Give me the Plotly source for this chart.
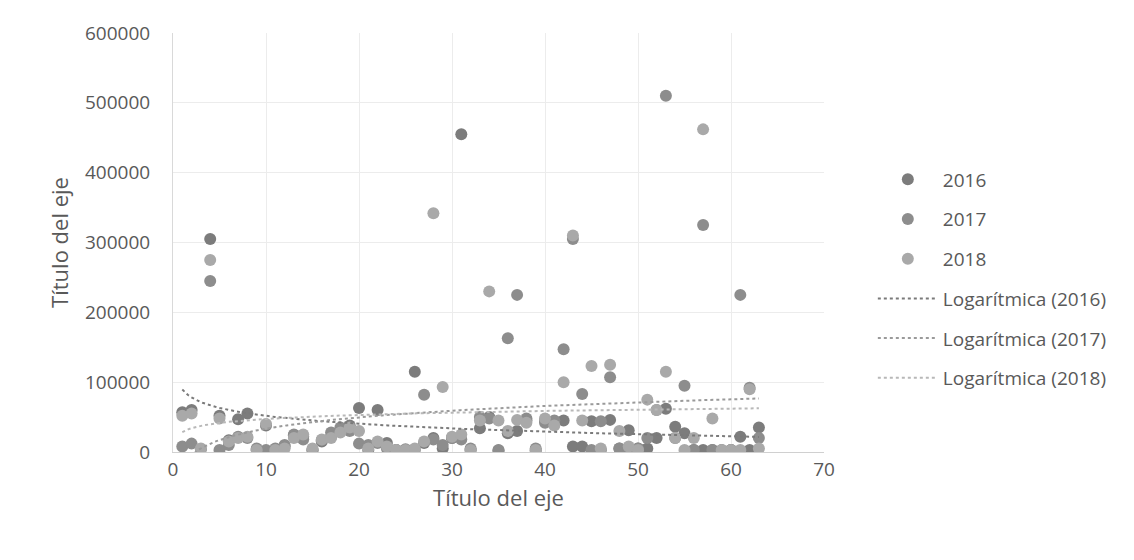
import numpy as np
import plotly.graph_objects as go

years = ["2016", "2017", "2018"]
x_idx = list(range(1, 64))
N = None

y_2016 = [57000, 60000, N, 305000, 52000, 17000, 47000, 55000, 3000, 38000,
          3000, 8000, 24000, 22000, 3000, 15000, 22000, 31000, 38000, 63000,
          3000, 60000, 13000, 3000, 3000, 115000, 13000, 20000, 5000, 20000,
          455000, 3000, 34000, 50000, 2000, 27000, 30000, 45000, 2000, 45000,
          42000, 45000, 8000, 8000, 44000, 3000, 46000, 5000, 31000, 5000,
          5000, 20000, 62000, 36000, 27000, 3000, 3000, 3000, 2000, 3000,
          22000, 3000, 35000]
y_2017 = [8000, 12000, 4000, 245000, 3000, 10000, 22000, 20000, 5000, 3000,
          5000, 10000, 25000, 18000, 3000, 17000, 28000, 35000, 30000, 12000,
          10000, 13000, 5000, 3000, 4000, 3000, 82000, 18000, 10000, 20000,
          18000, 5000, 50000, 48000, 3000, 163000, 225000, 48000, 5000, 42000,
          45000, 147000, 305000, 83000, 3000, 44000, 107000, 5000, 5000, 5000,
          20000, 60000, 510000, 20000, 95000, 3000, 325000, 3000, 3000, 3000,
          225000, 92000, 20000]
y_2018 = [52000, 55000, 5000, 275000, 48000, 15000, 20000, 22000, 3000, 40000,
          3000, 5000, 20000, 25000, 5000, 18000, 20000, 28000, 35000, 30000,
          5000, 15000, 8000, 3000, 3000, 5000, 15000, 342000, 93000, 22000,
          25000, 3000, 45000, 230000, 45000, 30000, 46000, 42000, 3000, 48000,
          38000, 100000, 310000, 45000, 123000, 5000, 125000, 30000, 8000, 3000,
          75000, 60000, 115000, 20000, 3000, 20000, 462000, 48000, 3000, 3000,
          3000, 90000, 5000]

series = [y_2016, y_2017, y_2018]
marker_colors = ["#7c7c7c", "#8d8d8d", "#a9a9a9"]
trend_colors = ["#7a7a7a", "#9a9a9a", "#b8b8b8"]

x_title = "Título del eje"
y_title = "Título del eje"
x_ticks = [0, 10, 20, 30, 40, 50, 60, 70]
y_ticks = [0, 100000, 200000, 300000, 400000, 500000, 600000]

fig = go.Figure()
for i, (yr, ys) in enumerate(zip(years, series)):
    fig.add_trace(go.Scatter(
        x=x_idx, y=ys, mode="markers", name=yr, legendgroup=yr,
        marker=dict(size=12, color=marker_colors[i]),
    ))

for i, (yr, ys) in enumerate(zip(years, series)):
    pts = [(x, y) for x, y in zip(x_idx, ys) if y is not None]
    xs = np.array([p[0] for p in pts], dtype=float)
    yv = np.array([p[1] for p in pts], dtype=float)
    a, b = np.polyfit(np.log(xs), yv, 1)
    xf = np.linspace(xs.min(), xs.max(), 200)
    fig.add_trace(go.Scatter(
        x=xf, y=a * np.log(xf) + b, mode="lines",
        name=f"Logarítmica ({yr})", legendgroup="t" + yr,
        line=dict(color=trend_colors[i], width=2, dash="dot"),
        hoverinfo="skip",
    ))

fig.update_layout(
    width=1118, height=544,
    margin=dict(l=165, r=302, t=25, b=100),
    paper_bgcolor="white", plot_bgcolor="white",
    font=dict(family="Open Sans", color="#595959"),
    legend=dict(x=1.075, xanchor="left", y=0.413, yanchor="middle",
                font=dict(size=19, color="#595959"), tracegroupgap=12,
                itemwidth=60, bgcolor="rgba(0,0,0,0)"),
)
fig.update_xaxes(range=[0, 70], tickvals=x_ticks, showgrid=True, gridcolor="#ececec",
                 zeroline=False, showline=True, linecolor="#d0d0d0",
                 tickfont=dict(size=19), ticks="",
                 title=dict(text=x_title, font=dict(size=22), standoff=8))
fig.update_yaxes(range=[0, 600000], tickvals=y_ticks, tickformat="d", showgrid=True, gridcolor="#ececec",
                 zeroline=False, showline=True, linecolor="#d9d9d9",
                 tickfont=dict(size=19), ticks="", ticklabelstandoff=18,
                 title=dict(text=y_title, font=dict(size=22), standoff=10))

fig.write_html("out.html")
